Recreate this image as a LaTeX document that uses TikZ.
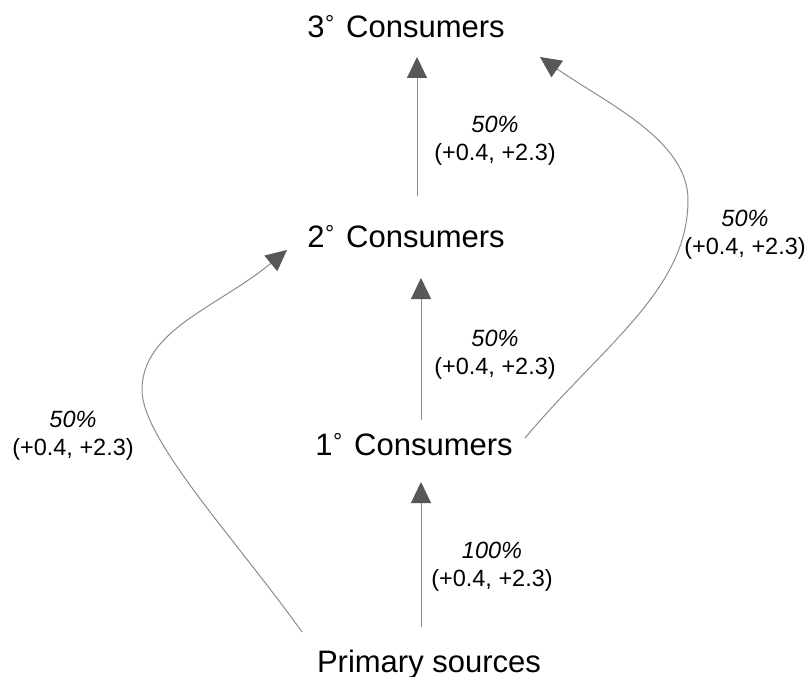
\documentclass[tikz,border=0pt]{standalone}
\usepackage{fontspec}
\setmainfont{Liberation Sans}
\usetikzlibrary{arrows.meta}
\definecolor{linegray}{HTML}{8C8C8C}
\definecolor{headgray}{HTML}{575757}
\newcommand{\degsm}{\makebox[13pt][l]{\hspace{0.5pt}\raisebox{6pt}{\fontsize{23}{23}\selectfont °}}}
\tikzset{
  title/.style={anchor=base, inner sep=0pt, font=\fontsize{31}{36}\selectfont},
  lbl/.style={align=center, inner sep=0pt, font=\fontsize{23.5}{28}\selectfont},
  flow/.style={draw=linegray, line width=1pt, -{Triangle[length=21pt,width=20pt,color=headgray]}}
}
\begin{document}
\begin{tikzpicture}[x=1pt,y=-1pt]
\useasboundingbox (0,0) rectangle (809,677);
% titles
\node[title] (n3) at (406,37.5) {3\degsm\ Consumers};
\node[title] (n2) at (406,247.5) {2\degsm\ Consumers};
\node[title] (n1) at (414,455) {1\degsm\ Consumers};
\node[title] (ps) at (429,672) {Primary sources};
% labels
\node[lbl] (l3) at (495,141) {\textit{50\%}\\(+0.4, +2.3)};
\node[lbl] (l2) at (495,355) {\textit{50\%}\\(+0.4, +2.3)};
\node[lbl] (lr) at (745,235) {\textit{50\%}\\(+0.4, +2.3)};
\node[lbl] (ll) at (73,436) {\textit{50\%}\\(+0.4, +2.3)};
\node[lbl] (l1) at (492,567) {\textit{100\%}\\(+0.4, +2.3)};
% connector end points
\coordinate (psTop) at (421,627);
\coordinate (psLeft) at (302,632);
\coordinate (n1In) at (421,482);
\coordinate (n1Top) at (421,420);
\coordinate (n1Right) at (525,438);
\coordinate (n2In) at (421,278);
\coordinate (n2Left) at (287,250);
\coordinate (n2Top) at (417,196);
\coordinate (n3In) at (417,57);
\coordinate (n3Right) at (540,57);
\coordinate (bendL) at (142,390);
\coordinate (bendR) at (688,200);
% connectors
\draw[flow] (psTop) -- (n1In);
\draw[flow] (n1Top) -- (n2In);
\draw[flow] (n2Top) -- (n3In);
\draw[flow] (psLeft) .. controls (238,542) and (142,440) .. (bendL)
  .. controls (142,330) and (218,307) .. (n2Left);
\draw[flow] (n1Right) .. controls (602,346) and (688,290) .. (bendR)
  .. controls (688,140) and (606,103) .. (n3Right);
\end{tikzpicture}
\end{document}
